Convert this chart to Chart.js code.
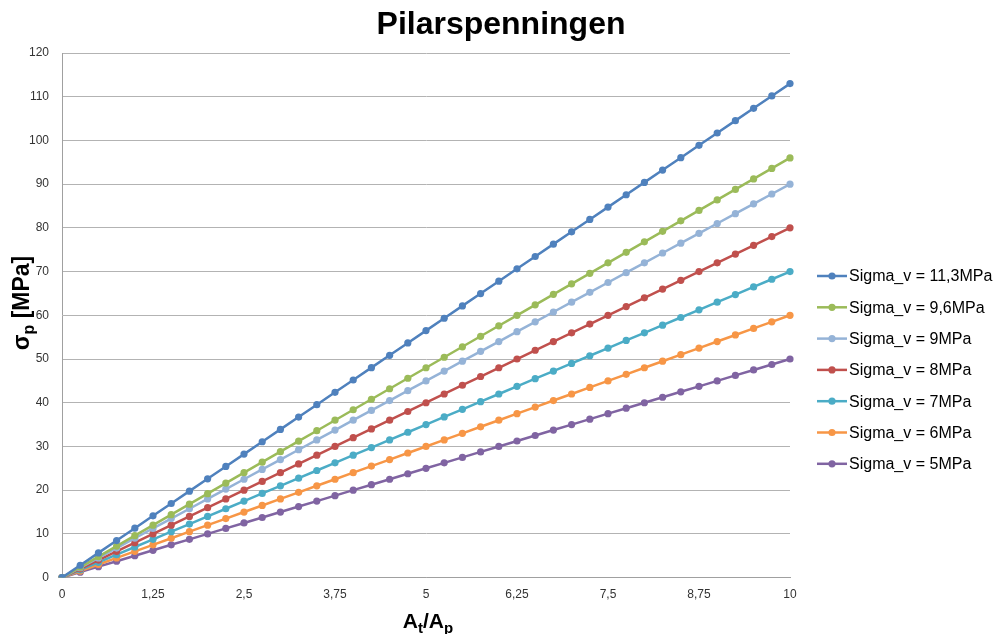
<!DOCTYPE html>
<html>
<head>
<meta charset="utf-8">
<script src="https://cdn.jsdelivr.net/npm/chart.js@4"></script>
<style>
  html, body { margin: 0; background: #fff; }
  .wrap { width: 1001px; height: 634px; position: relative; }
</style>
</head>
<body>
<div class="wrap"><canvas id="myChart"></canvas></div>
<script>
// At/Ap ratio (category labels)
const ratios = ['0','0,25','0,5','0,75','1','1,25','1,5','1,75','2','2,25','2,5','2,75','3','3,25','3,5','3,75',
  '4','4,25','4,5','4,75','5','5,25','5,5','5,75','6','6,25','6,5','6,75','7','7,25','7,5','7,75',
  '8','8,25','8,5','8,75','9','9,25','9,5','9,75','10'];

const sigma113 = [0, 2.83, 5.65, 8.48, 11.3, 14.13, 16.95, 19.78, 22.6, 25.43, 28.25, 31.08, 33.9, 36.73, 39.55, 42.38,
  45.2, 48.03, 50.85, 53.68, 56.5, 59.33, 62.15, 64.98, 67.8, 70.63, 73.45, 76.28, 79.1, 81.93, 84.75, 87.58,
  90.4, 93.23, 96.05, 98.88, 101.7, 104.53, 107.35, 110.18, 113];
const sigma96 = [0, 2.4, 4.8, 7.2, 9.6, 12, 14.4, 16.8, 19.2, 21.6, 24, 26.4, 28.8, 31.2, 33.6, 36,
  38.4, 40.8, 43.2, 45.6, 48, 50.4, 52.8, 55.2, 57.6, 60, 62.4, 64.8, 67.2, 69.6, 72, 74.4,
  76.8, 79.2, 81.6, 84, 86.4, 88.8, 91.2, 93.6, 96];
const sigma9 = [0, 2.25, 4.5, 6.75, 9, 11.25, 13.5, 15.75, 18, 20.25, 22.5, 24.75, 27, 29.25, 31.5, 33.75,
  36, 38.25, 40.5, 42.75, 45, 47.25, 49.5, 51.75, 54, 56.25, 58.5, 60.75, 63, 65.25, 67.5, 69.75,
  72, 74.25, 76.5, 78.75, 81, 83.25, 85.5, 87.75, 90];
const sigma8 = [0, 2, 4, 6, 8, 10, 12, 14, 16, 18, 20, 22, 24, 26, 28, 30,
  32, 34, 36, 38, 40, 42, 44, 46, 48, 50, 52, 54, 56, 58, 60, 62,
  64, 66, 68, 70, 72, 74, 76, 78, 80];
const sigma7 = [0, 1.75, 3.5, 5.25, 7, 8.75, 10.5, 12.25, 14, 15.75, 17.5, 19.25, 21, 22.75, 24.5, 26.25,
  28, 29.75, 31.5, 33.25, 35, 36.75, 38.5, 40.25, 42, 43.75, 45.5, 47.25, 49, 50.75, 52.5, 54.25,
  56, 57.75, 59.5, 61.25, 63, 64.75, 66.5, 68.25, 70];
const sigma6 = [0, 1.5, 3, 4.5, 6, 7.5, 9, 10.5, 12, 13.5, 15, 16.5, 18, 19.5, 21, 22.5,
  24, 25.5, 27, 28.5, 30, 31.5, 33, 34.5, 36, 37.5, 39, 40.5, 42, 43.5, 45, 46.5,
  48, 49.5, 51, 52.5, 54, 55.5, 57, 58.5, 60];
const sigma5 = [0, 1.25, 2.5, 3.75, 5, 6.25, 7.5, 8.75, 10, 11.25, 12.5, 13.75, 15, 16.25, 17.5, 18.75,
  20, 21.25, 22.5, 23.75, 25, 26.25, 27.5, 28.75, 30, 31.25, 32.5, 33.75, 35, 36.25, 37.5, 38.75,
  40, 41.25, 42.5, 43.75, 45, 46.25, 47.5, 48.75, 50];

const seriesNames = ['Sigma_v = 11,3MPa', 'Sigma_v = 9,6MPa', 'Sigma_v = 9MPa', 'Sigma_v = 8MPa',
  'Sigma_v = 7MPa', 'Sigma_v = 6MPa', 'Sigma_v = 5MPa'];
const seriesData = [sigma113, sigma96, sigma9, sigma8, sigma7, sigma6, sigma5];
const colors = ['#4f81bd', '#9bbb59', '#95b3d7', '#c0504d', '#4bacc6', '#f79646', '#8064a2'];

const yTicks = [0, 10, 20, 30, 40, 50, 60, 70, 80, 90, 100, 110, 120];

const FONT = '"Liberation Sans", Arial, sans-serif';

// titles (with subscripts) and the legend with line + dot markers
const extras = {
  id: 'extras',
  afterDraw(chart) {
    const ctx = chart.ctx;
    ctx.save();
    ctx.fillStyle = '#000';
    ctx.textBaseline = 'alphabetic';

    // main title
    ctx.font = 'bold 32px ' + FONT;
    ctx.textAlign = 'center';
    ctx.fillText('Pilarspenningen', 501, 34);

    // x title  At/Ap
    ctx.textAlign = 'left';
    let big = 'bold 21px ' + FONT;
    let small = 'bold 15px ' + FONT;
    const xParts = [['A', big, 0], ['t', small, 5], ['/', big, 0], ['A', big, 0], ['p', small, 5]];
    let w = 0;
    xParts.forEach(p => { ctx.font = p[1]; w += ctx.measureText(p[0]).width; });
    let x = 428 - w / 2;
    xParts.forEach(p => { ctx.font = p[1]; ctx.fillText(p[0], x, 628 + p[2]); x += ctx.measureText(p[0]).width; });

    // y title  σp [MPa]
    big = 'bold 23px ' + FONT;
    small = 'bold 16px ' + FONT;
    ctx.save();
    ctx.translate(29, 303);
    ctx.rotate(-Math.PI / 2);
    const yParts = [['σ', big, 0], ['p', small, 5], [' [MPa]', big, 0]];
    w = 0;
    yParts.forEach(p => { ctx.font = p[1]; w += ctx.measureText(p[0]).width; });
    x = -w / 2;
    yParts.forEach(p => { ctx.font = p[1]; ctx.fillText(p[0], x, p[2]); x += ctx.measureText(p[0]).width; });
    ctx.restore();

    // legend
    ctx.font = '16px ' + FONT;
    ctx.textBaseline = 'middle';
    seriesNames.forEach((name, i) => {
      const y = 276 + i * 31.3;
      ctx.strokeStyle = colors[i];
      ctx.lineWidth = 2.5;
      ctx.beginPath(); ctx.moveTo(817, y); ctx.lineTo(847, y); ctx.stroke();
      ctx.fillStyle = colors[i];
      ctx.beginPath(); ctx.arc(832, y, 3.6, 0, Math.PI * 2); ctx.fill();
      ctx.fillStyle = '#000';
      ctx.fillText(name, 849, y + 1);
    });
    ctx.restore();
  }
};

const grOne = document.getElementById('myChart');

new Chart(grOne, {
  type: 'line',
  data: {
    labels: ratios,
    datasets: seriesData.map((d, i) => ({
      label: seriesNames[i],
      data: d,
      borderColor: colors[i],
      backgroundColor: colors[i],
      borderWidth: 2.5,
      pointRadius: 3.6,
      pointHoverRadius: 4,
      pointBorderWidth: 0,
      tension: 0,
      fill: false
    }))
  },
  options: {
    responsive: true,
    maintainAspectRatio: false,
    animation: false,
    layout: {
      padding: { top: 53, left: 16, right: 211, bottom: 22 }
    },
    plugins: {
      tooltip: { enabled: false },
      legend: { display: false }
    },
    scales: {
      x: {
        offset: false,
        grid: { display: false, drawTicks: false },
        border: { color: '#a0a0a0', width: 1 },
        ticks: {
          autoSkip: false,
          maxRotation: 0,
          color: '#333',
          font: { size: 12, family: FONT },
          padding: 10,
          callback: (v, i) => (i % 5 === 0 ? ratios[i] : null)
        }
      },
      y: {
        min: 0,
        max: 120,
        afterBuildTicks(axis) { axis.ticks = yTicks.map(v => ({ value: v })); },
        grid: { color: '#b3b3b3', lineWidth: 1, drawTicks: false },
        border: { color: '#a0a0a0', width: 1 },
        ticks: {
          color: '#333',
          padding: 13,
          font: { size: 12, family: FONT }
        }
      }
    }
  },
  plugins: [extras]
});
</script>
</body>
</html>
